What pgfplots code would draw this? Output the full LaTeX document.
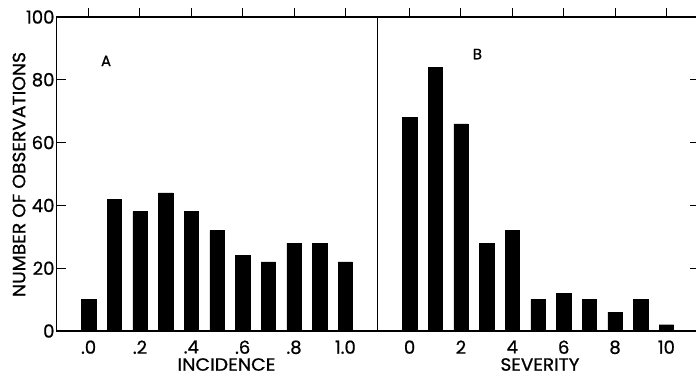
\documentclass[border=0pt]{standalone}
\usepackage{pgfplots}
\pgfplotsset{compat=1.18}
\usepackage{fontspec}
\setmainfont{Poppins}[FakeBold=0.8]
\begin{document}
\begin{tikzpicture}
\useasboundingbox (0,0) rectangle (696pt,374pt);
\pgfplotsset{
  every axis/.append style={
    scale only axis, width=321pt, height=314pt,
    anchor=south west,
    xmin=-1.25, xmax=11.25, ymin=0, ymax=100,
    axis line style={line width=1.1pt},
    tick style={line width=1pt, black},
    major tick length=9pt,
    tick align=inside,
    xtick pos=right, xticklabel pos=left,
    xtick={0,2,4,6,8,10},
    ytick={0,20,40,60,80,100},
    /pgf/number format/assume math mode=true,
    tick label style={font=\fontsize{18}{20}\selectfont},
    xticklabel style={yshift=3pt},
    yticklabel style={xshift=1.5pt},
    ybar, bar width=0.56,
  }
}
\begin{axis}[at={(56.5pt,43pt)},
  xticklabels={.0,.2,.4,.6,.8,1.0},
  ytick pos=left, yticklabel pos=left]
\addplot[fill=black, draw=black] coordinates {
(0,10) (1,42) (2,38) (3,44) (4,38) (5,32) (6,24) (7,22) (8,28) (9,28) (10,22)};
\node[font=\fontsize{15}{17}\selectfont] at (axis cs:0.68,86) {A};
\end{axis}
\begin{axis}[at={(377.5pt,43pt)},
  xticklabels={0,2,4,6,8,10},
  ytick pos=right, yticklabels={}]
\addplot[fill=black, draw=black] coordinates {
(0,68) (1,84) (2,66) (3,28) (4,32) (5,10) (6,12) (7,10) (8,6) (9,10) (10,2)};
\node[font=\fontsize{15}{17}\selectfont] at (axis cs:2.64,88.2) {B};
\end{axis}
\node[rotate=90, inner sep=0pt] at (19pt,199.5pt) {\resizebox{245pt}{12.5pt}{NUMBER OF OBSERVATIONS}};
\node[inner sep=0pt] at (226.5pt,9.5pt) {\resizebox{98pt}{12.5pt}{INCIDENCE}};
\node[inner sep=0pt] at (540pt,9.5pt) {\resizebox{79pt}{12.5pt}{SEVERITY}};
\end{tikzpicture}
\end{document}
